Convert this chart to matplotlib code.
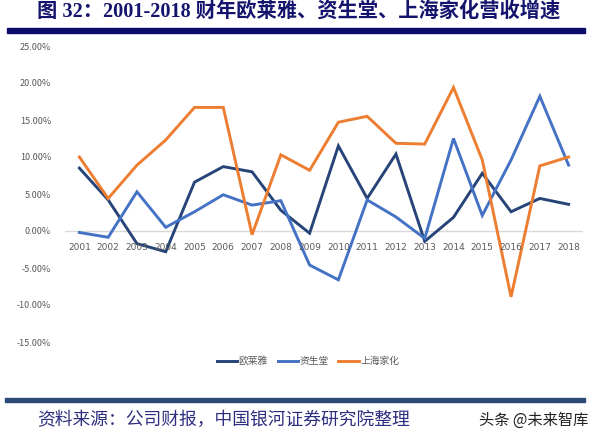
import matplotlib
matplotlib.use("Agg")
import matplotlib.pyplot as plt
from matplotlib.lines import Line2D
from matplotlib.patches import Rectangle

plt.rcParams['font.family'] = ['Noto Sans CJK SC', 'DejaVu Sans']

years = [str(y) for y in range(2001, 2019)]
loreal = [8.5, 4.2, -1.7, -2.8, 6.6, 8.7, 8.0, 2.8, -0.3, 11.5, 4.4, 10.4, -1.4, 1.85, 7.8, 2.6, 4.4, 3.6]
shiseido = [-0.2, -0.85, 5.3, 0.5, 2.6, 4.9, 3.5, 4.1, -4.6, -6.6, 4.2, 1.9, -1.0, 12.5, 2.1, 9.6, 18.2, 8.9]
jahwa = [10.0, 4.4, 8.9, 12.3, 16.7, 16.7, -0.5, 10.3, 8.2, 14.7, 15.5, 11.85, 11.75, 19.4, 9.6, -8.9, 8.8, 10.0]
series_names = ['欧莱雅', '资生堂', '上海家化']
yticks = [25, 20, 15, 10, 5, 0, -5, -10, -15]

colors = ['#264478', '#4472C4', '#ED7D31']

W, H = 599, 441
fig = plt.figure(figsize=(W / 100, H / 100), dpi=100)

# Title
fig.text(37 / W, 1 - 12 / H, '图 32：2001-2018 财年欧莱雅、资生堂、上海家化营收增速',
         ha='left', va='center', fontsize=14.6, fontweight='bold', color='#14146e',
         family=['Liberation Serif', 'Noto Sans CJK SC'])
fig.patches.append(Rectangle((7 / W, 1 - 32.5 / H), (585 - 7) / W, 4.5 / H,
                             transform=fig.transFigure, color='#0c0c6a', zorder=5))

# Axes
left, right = 65 / W, 583 / W
top, bottom = 1 - 46 / H, 1 - 342 / H
ax = fig.add_axes([left, bottom, right - left, top - bottom])
x = list(range(len(years)))
for vals, c, name in zip([loreal, shiseido, jahwa], colors, series_names):
    ax.plot(x, vals, color=c, lw=2.1, label=name, solid_joinstyle='miter', zorder=3)
ax.axhline(0, color='#d9d9d9', lw=1, zorder=1)
ax.set_xlim(-0.5, len(years) - 0.5)
ax.set_ylim(-15, 25)
for s in ax.spines.values():
    s.set_visible(False)
ax.set_xticks([])
ax.set_yticks(yticks)
ax.set_yticklabels([f'{v:.2f}%' for v in yticks], fontsize=6.5, color='#595959')
ax.tick_params(axis='y', length=0, pad=10)
for xi, lab in zip(x, years):
    ax.annotate(lab, (xi, 0), xytext=(0, -12), textcoords='offset points',
                ha='center', va='center', fontsize=6.5, color='#595959',
                family=['DejaVu Sans'])

handles = [Line2D([], [], color=c, lw=2.1) for c in colors]
fig.legend(handles, series_names, loc='center', bbox_to_anchor=(308 / W, 1 - 361 / H),
           ncol=3, frameon=False, fontsize=7, handlelength=2.1, handletextpad=0.15,
           columnspacing=1.0, labelcolor='#595959')

# Bottom bar and source
fig.patches.append(Rectangle((5 / W, 1 - 402 / H), (585 - 5) / W, 4 / H,
                             transform=fig.transFigure, color='#2b4a78', zorder=5))
fig.text(37 / W, 1 - 420 / H, '资料来源：公司财报，中国银河证券研究院整理',
         ha='left', va='center', fontsize=12.8, color='#2e2e80', style='italic')
fig.text(588 / W, 1 - 420 / H, '头条 @未来智库',
         ha='right', va='center', fontsize=11, color='#222222')

fig.savefig('out.png', dpi=100)
